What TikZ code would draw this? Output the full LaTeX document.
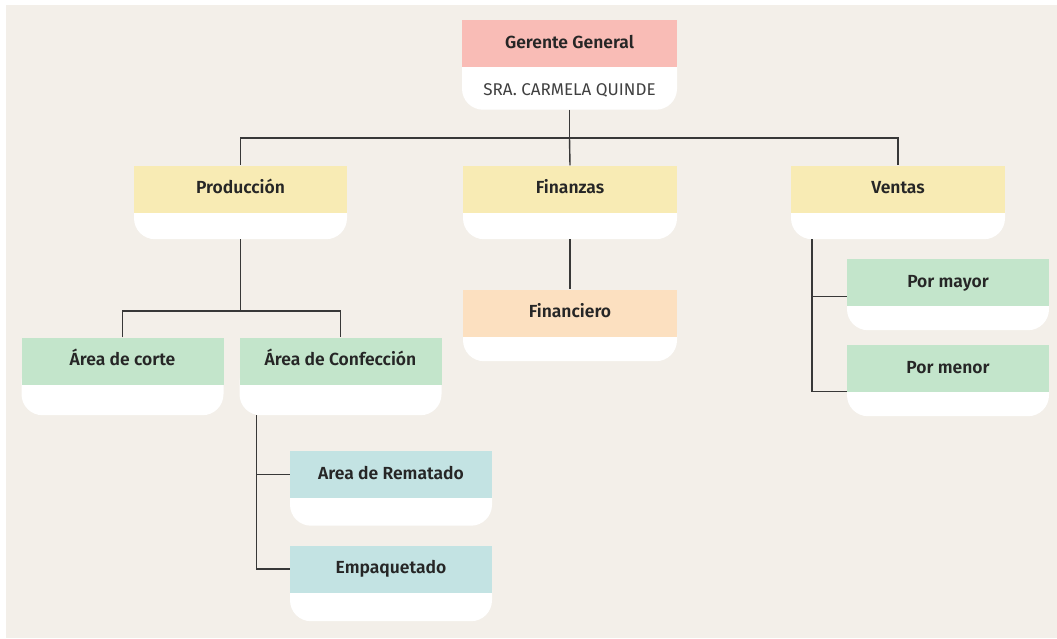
\documentclass[tikz,border=0pt]{standalone}
\usepackage{fontspec}
\setmainfont{Fira Sans}[BoldFont={Fira Sans SemiBold}]
\usetikzlibrary{positioning}

\definecolor{fondo}{HTML}{F3EFE9}
\definecolor{rosa}{HTML}{F9BCB6}
\definecolor{amarillo}{HTML}{F8EBB4}
\definecolor{naranja}{HTML}{FCE0C0}
\definecolor{verde}{HTML}{C3E5CB}
\definecolor{celeste}{HTML}{C3E3E3}
\definecolor{linea}{HTML}{383838}

\tikzset{
  cabeza/.style={minimum width=#1, minimum height=47pt, inner sep=0pt,
    text height=12.5pt, text depth=3.5pt,
    text=black!85, font=\bfseries\fontsize{17.5}{19}\selectfont},
  pie/.style={fill=white, rounded corners=21pt, anchor=north, inner sep=0pt},
  conector/.style={draw=linea, line width=1.4pt}
}

\begin{document}
\begin{tikzpicture}[x=1pt,y=-1pt]
\useasboundingbox (0,0) rectangle (1057,638);
\fill[fondo] (6,5) rectangle (1057,638);

% gerencia
\node[pie, minimum width=215pt, minimum height=66pt] (gg-p) at (569.5,43.5) {};
\node[cabeza=215pt, fill=rosa] (gg) at (569.5,43.5) {Gerente General};
\node[text=black!75, font=\fontsize{17}{19}\selectfont] (gg-nom) at (569.5,90) {SRA. CARMELA QUINDE};

% segundo nivel
\node[pie, minimum width=213pt, minimum height=50pt] (prod-p) at (240.5,189) {};
\node[cabeza=213pt, fill=amarillo] (prod) at (240.5,189) {Producción};
\node[pie, minimum width=214pt, minimum height=50pt] (fin-p) at (570,189) {};
\node[cabeza=214pt, fill=amarillo] (fin) at (570,189) {Finanzas};
\node[pie, minimum width=214pt, minimum height=50pt] (vent-p) at (898,189) {};
\node[cabeza=214pt, fill=amarillo] (vent) at (898,189) {Ventas};

% finanzas
\node[pie, minimum width=214pt, minimum height=48pt] (finc-p) at (570,313) {};
\node[cabeza=214pt, fill=naranja] (finc) at (570,313) {Financiero};

% produccion
\node[pie, minimum width=202pt, minimum height=54pt] (corte-p) at (122.5,361) {};
\node[cabeza=202pt, fill=verde] (corte) at (122.5,361) {Área de corte};
\node[pie, minimum width=202pt, minimum height=54pt] (conf-p) at (340.5,361) {};
\node[cabeza=202pt, fill=verde] (conf) at (340.5,361) {Área de Confección};

\node[pie, minimum width=202pt, minimum height=51pt] (remat-p) at (391,474.5) {};
\node[cabeza=202pt, fill=celeste] (remat) at (391,474.5) {Area de Rematado};
\node[pie, minimum width=202pt, minimum height=52pt] (empaq-p) at (391,569) {};
\node[cabeza=202pt, fill=celeste] (empaq) at (391,569) {Empaquetado};

% ventas
\node[pie, minimum width=202pt, minimum height=47.5pt] (mayor-p) at (948,282.5) {};
\node[cabeza=202pt, fill=verde] (mayor) at (948,282.5) {Por mayor};
\node[pie, minimum width=202pt, minimum height=47.5pt] (menor-p) at (948,368.5) {};
\node[cabeza=202pt, fill=verde] (menor) at (948,368.5) {Por menor};

% conectores
\coordinate (bus) at (569.5,138);
\coordinate (bus2) at (240.5,311);
\draw[conector] (gg-p.south) -- (bus) -| (prod.north);
\draw[conector] (bus) -| (vent.north);
\draw[conector] (bus) -- (fin.north);
\draw[conector] (fin-p.south) -- (finc.north);

\draw[conector] (prod-p.south) -- (bus2);
\draw[conector] (corte.north) |- (bus2) -| (conf.north);

\draw[conector] ([xshift=17pt]conf-p.south west) |- (remat.west);
\draw[conector] ([xshift=17pt]conf-p.south west) |- (empaq.west);

\draw[conector] ([xshift=21pt]vent-p.south west) |- ([yshift=-14pt]mayor.west);
\draw[conector] ([xshift=21pt]vent-p.south west) |- ([yshift=1pt]menor.south west);
\end{tikzpicture}
\end{document}
